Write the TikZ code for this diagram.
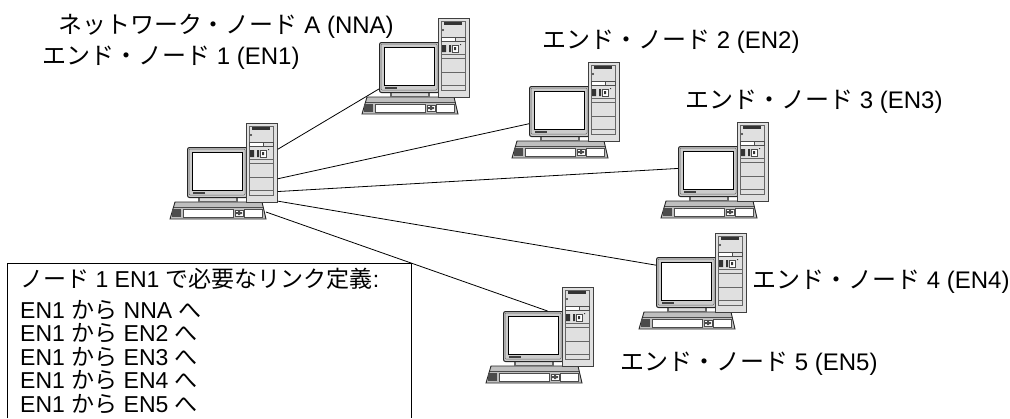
\documentclass[tikz,border=0pt]{standalone}
\usepackage{fontspec}
\setmainfont{Liberation Sans}
\newfontfamily\jp{Noto Sans CJK JP}
\usetikzlibrary{calc}
\tikzset{
    casing/.style={draw=black!75, fill=black!12, line width=0.7pt},
    glass/.style={draw=black, fill=white, line width=0.8pt},
    wire/.style={draw=black, line width=0.8pt},
    nametext/.style={inner sep=0pt, anchor=base west, font=\fontsize{24}{26}\selectfont},
    deftext/.style={nametext, font=\fontsize{23}{25}\selectfont},
}
% one workstation; #1 = top left corner of the tower, #2 = name
\newcommand\computer[2]{%
    \begin{scope}[shift={#1}]
        % keyboard
        \draw[casing, draw=black!85, fill=black!25, line width=0.9pt] (-71,79) -- (16,79) -- (20,96) -- (-76,96) -- cycle;
        \draw[black!70, line width=0.5pt] (-72,84) -- (17,84);
        \draw[black!70, fill=white, line width=0.5pt] (-63,86) rectangle (-13,94);
        \draw[black!70, fill=white, line width=0.5pt] (-2,86) rectangle (16,94);
        \fill[black!70] (-74,86) rectangle (-65,94);
        \draw[black!70, fill=white, line width=0.5pt] (-11,87) rectangle (-3,93);
        \fill[black!70] (-8,88) rectangle (-6,92) (-10,89) rectangle (-4,91);
        \coordinate (#2-kbd) at (20,89);
        % monitor
        \fill[black!60] (-48,74) rectangle (-8,79);
        \fill[black!15] (-46,75) rectangle (-10,78);
        \node[casing, draw=black!85, fill=black!20, line width=1pt, rounded corners=2pt,
              minimum width=60pt, minimum height=50pt,
              inner sep=0pt, anchor=north west] (#2-mon) at (-59,24) {};
        \draw[black!60, line width=0.5pt, rounded corners=1pt] (-57,26) rectangle (-1,72);
        \draw[glass] (-54,29) rectangle (-4,67);
        \fill[black!75] (-53,69) rectangle (-41,71);
        % tower
        \node[casing, minimum width=31pt, minimum height=79pt, inner sep=0pt,
              anchor=north west] (#2-tower) at (0,0) {};
        \draw[black!60, line width=0.5pt] (3,3) rectangle (27,72);
        \fill[black!80] (6,4) rectangle (24,7);
        \fill[black!80] (5,12) circle (1.2);
        \draw[black!70, fill=white, line width=0.5pt] (3,19) rectangle (17,23);
        \draw[black!70, line width=0.5pt] (17,19) rectangle (27,23);
        \fill[black!80] (4,27) rectangle (8,34) (11,27) rectangle (13,34);
        \draw[black!70, fill=white, line width=0.5pt] (14,27) rectangle (20,34);
        \fill[black!80] (16,29) rectangle (18,32) (22,26) rectangle (23,27);
        \draw[black!60, line width=0.5pt] (3,36) -- (27,36) (3,40) -- (27,40)
            (3,54) -- (27,54) (3,67) -- (27,67);
    \end{scope}}

\begin{document}
\begin{tikzpicture}[x=1pt, y=-1pt]
    \useasboundingbox (0,0) rectangle (1010,418);

    \computer{(246,123)}{EN1}
    \computer{(438,18)}{NNA}
    \computer{(588,62)}{EN2}
    \computer{(737,122)}{EN3}
    \computer{(715,233)}{EN4}
    \computer{(562,287)}{EN5}

    % links from EN1
    \draw[wire] ($(EN1-tower.north east)!0.33!(EN1-tower.south east)$) -- ($(NNA-mon.north west)!0.92!(NNA-mon.south west)$);
    \draw[wire] ($(EN1-tower.north east)!0.70!(EN1-tower.south east)$) -- ($(EN2-mon.north west)!0.74!(EN2-mon.south west)$);
    \draw[wire] ($(EN1-tower.north east)!0.86!(EN1-tower.south east)$) -- ($(EN3-mon.north west)!0.44!(EN3-mon.south west)$);
    \draw[wire] ($(EN1-tower.north east)!0.98!(EN1-tower.south east)$) -- ($(EN4-mon.north west)!0.16!(EN4-mon.south west)$);
    \draw[wire] (EN1-kbd) -- ($(EN5-mon.north west)!0.73!(EN5-mon.north east)$);

    % names
    \node[nametext] (nna-name) at (58,33) {{\jp ネットワーク・ノード} A (NNA)};
    \node[nametext] (en1-name) at (42,64) {{\jp エンド・ノード} 1 (EN1)};
    \node[nametext] (en2-name) at (542,48) {{\jp エンド・ノード} 2 (EN2)};
    \node[nametext] (en3-name) at (685,108) {{\jp エンド・ノード} 3 (EN3)};
    \node[nametext] (en4-name) at (752,288) {{\jp エンド・ノード} 4 (EN4)};
    \node[nametext] (en5-name) at (620,370) {{\jp エンド・ノード} 5 (EN5)};

    % definitions needed at EN1
    \draw[line width=0.8pt] (7,418) |- (411,263) -- (411,418);
    \node[deftext] (def0) at (20,287) {{\jp ノード} 1 EN1 {\jp で必要なリンク定義}:};
    \foreach \dest [count=\i] in {NNA,EN2,EN3,EN4,EN5}
        \node[deftext] (def\i) at (20,{294.5+23.5*\i}) {EN1 {\jp から} \dest{} {\jp へ}};
\end{tikzpicture}
\end{document}
